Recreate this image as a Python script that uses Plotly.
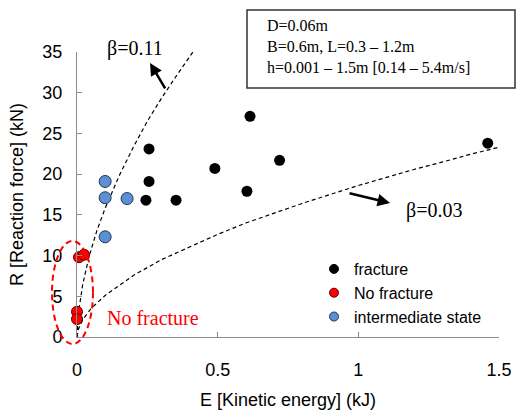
import plotly.graph_objects as go

# ---- data ----
fracture_E = [0.245, 0.256, 0.256, 0.352, 0.490, 0.604, 0.615, 0.720, 1.460]
fracture_R = [16.8, 19.1, 23.1, 16.8, 20.7, 17.9, 27.1, 21.7, 23.8]

nofrac_E = [0.007, 0.025, 0.000, 0.000]
nofrac_R = [9.8, 10.1, 3.1, 2.2]

inter_E = [0.100, 0.100, 0.178, 0.100]
inter_R = [19.1, 17.1, 17.0, 12.3]

beta011_E = [0.0, 0.005, 0.02, 0.043, 0.071, 0.10, 0.15, 0.20, 0.25, 0.30, 0.35, 0.412]
beta011_R = [0.0, 2.9, 6.4, 9.9, 13.1, 15.8, 19.8, 23.3, 26.5, 29.3, 31.9, 35.0]

beta003_E = [0.0, 0.005, 0.02, 0.05, 0.1, 0.2, 0.3, 0.4, 0.5, 0.6, 0.7, 0.8, 0.9,
             1.0, 1.1, 1.2, 1.3, 1.4, 1.5]
beta003_R = [0.0, 0.95, 2.1, 3.5, 5.1, 7.55, 9.5, 11.1, 12.6, 14.0, 15.2, 16.4, 17.5,
             18.6, 19.6, 20.6, 21.5, 22.45, 23.3]

x_ticks = [0, 0.5, 1, 1.5]
x_tick_text = ["0", "0.5", "1", "1.5"]
y_ticks = [0, 5, 10, 15, 20, 25, 30, 35]

legend_names = ["fracture", "No fracture", "intermediate state"]

# ---- styling ----
W, H = 519, 410
ML, MR, MT, MB = 77, 20, 52, 73
PW, PH = W - ML - MR, H - MT - MB
SANS = "Liberation Sans, Arial, sans-serif"
SERIF = "Liberation Serif, Times New Roman, serif"
AX = "#8c8c8c"

BLACK = "#000000"
RED = "#ff0000"
BLUE = "#5b8fd6"


def px(xp):
    return (xp - ML) / PW


def py(yp):
    return (H - MB - yp) / PH


fig = go.Figure()

line_style = dict(color="black", width=1.2, dash="4px,3px")
fig.add_trace(go.Scatter(x=beta011_E, y=beta011_R, mode="lines", line=line_style,
                         showlegend=False, hoverinfo="skip"))
fig.add_trace(go.Scatter(x=beta003_E, y=beta003_R, mode="lines", line=line_style,
                         showlegend=False, hoverinfo="skip"))

fig.add_trace(go.Scatter(x=fracture_E, y=fracture_R, mode="markers", cliponaxis=False,
                         marker=dict(size=11, color=BLACK), showlegend=False))
fig.add_trace(go.Scatter(x=inter_E, y=inter_R, mode="markers", cliponaxis=False,
                         marker=dict(size=12, color=BLUE, line=dict(color="#1d3550", width=1)),
                         showlegend=False))
fig.add_trace(go.Scatter(x=nofrac_E, y=nofrac_R, mode="markers", cliponaxis=False,
                         marker=dict(size=11, color=RED, line=dict(color="#5a0000", width=1)),
                         showlegend=False))

# legend entries (smaller symbols as in the reference)
for name, col, lc in zip(legend_names, [BLACK, RED, BLUE], [BLACK, "#5a0000", "#1d3550"]):
    fig.add_trace(go.Scatter(x=[None], y=[None], mode="markers", name=name,
                             marker=dict(size=9, color=col, line=dict(color=lc, width=1))))

# ellipse around no-fracture points
fig.add_shape(type="circle", xref="paper", yref="paper",
              x0=px(52), x1=px(93), y0=py(344), y1=py(241),
              line=dict(color=RED, width=2, dash="6px,4px"))

# info box
fig.add_shape(type="rect", xref="paper", yref="paper",
              x0=px(247), x1=px(515), y0=py(88), y1=py(10),
              line=dict(color="#333333", width=1.5), fillcolor="white")
fig.add_annotation(xref="paper", yref="paper", x=px(265), y=py(47),
                   xanchor="left", yanchor="middle", align="left", showarrow=False,
                   text="D=0.06m<br>B=0.6m, L=0.3 \u2013 1.2m<br>h=0.001 \u2013 1.5m [0.14 \u2013 5.4m/s]",
                   font=dict(family=SERIF, size=16, color="black"))

# beta labels and arrows
fig.add_annotation(x=0.2595, y=33.66, ax=16, ay=27, text="", showarrow=True,
                   arrowhead=2, arrowsize=1, arrowwidth=2.5, arrowcolor="black")
fig.add_annotation(xref="paper", yref="paper", x=px(135), y=py(49), text="\u03b2=0.11",
                   xanchor="center", yanchor="middle",
                   showarrow=False, font=dict(family=SERIF, size=20, color="black"))
fig.add_annotation(x=1.1127, y=16.46, ax=-42, ay=-10, text="", showarrow=True,
                   arrowhead=2, arrowsize=1, arrowwidth=2.5, arrowcolor="black")
fig.add_annotation(x=1.269, y=15.5, text="\u03b2=0.03", showarrow=False,
                   font=dict(family=SERIF, size=20, color="black"))
fig.add_annotation(x=0.270, y=2.33, text="No fracture", showarrow=False,
                   font=dict(family=SERIF, size=20, color=RED))

fig.update_layout(
    width=W, height=H,
    margin=dict(l=ML, r=MR, t=MT, b=MB, autoexpand=False),
    paper_bgcolor="white", plot_bgcolor="white",
    font=dict(family=SANS, size=18, color="black"),
    legend=dict(x=px(314), y=py(252), xanchor="left", yanchor="top",
                bgcolor="rgba(0,0,0,0)", font=dict(family=SANS, size=16, color="black"),
                tracegroupgap=0, itemsizing="trace"),
    xaxis=dict(range=[0, 1.5], tickvals=x_ticks, ticktext=x_tick_text,
               showgrid=False, zeroline=False, showline=True, linecolor=AX, linewidth=1,
               ticks="inside", ticklen=5, tickcolor=AX, ticklabelstandoff=16,
               title=dict(text="E [Kinetic energy] (kJ)", standoff=14,
                          font=dict(family=SANS, size=18))),
    yaxis=dict(range=[0, 35], tickvals=y_ticks,
               showgrid=False, zeroline=False, showline=True, linecolor=AX, linewidth=1,
               ticks="inside", ticklen=5, tickcolor=AX, ticklabelstandoff=10,
               title=dict(text="R [Reaction force] (kN)", standoff=14,
                          font=dict(family=SANS, size=18))),
)

fig.write_html("out.html", config={"displayModeBar": False},
               post_script="document.body.style.margin='0px';document.body.style.overflow='hidden';")
